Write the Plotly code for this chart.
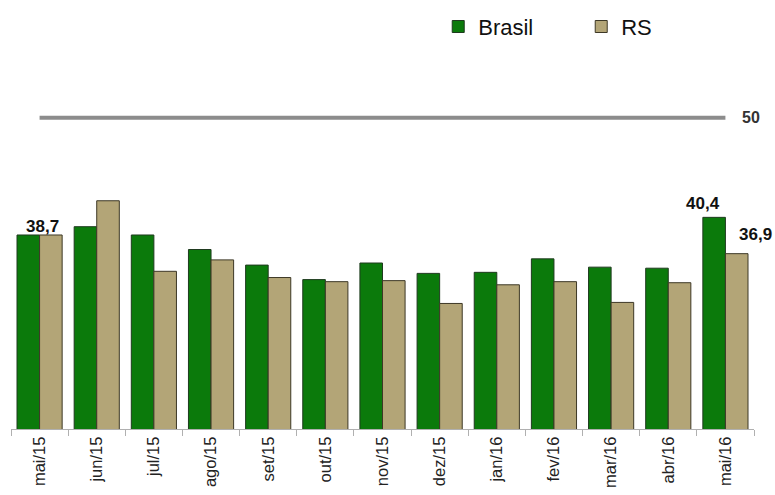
import plotly.graph_objects as go

categories = ["mai/15", "jun/15", "jul/15", "ago/15", "set/15", "out/15", "nov/15",
              "dez/15", "jan/16", "fev/16", "mar/16", "abr/16", "mai/16"]
brasil = [38.7, 39.5, 38.7, 37.3, 35.8, 34.4, 36.0, 35.0, 35.1, 36.4, 35.6, 35.5, 40.4]
rs = [38.7, 42.0, 35.2, 36.3, 34.6, 34.2, 34.3, 32.1, 33.9, 34.2, 32.2, 34.1, 36.9]
reference = [50] * len(categories)
y_range = [20, 60]

FONT = "Liberation Sans, Arial, sans-serif"

fig = go.Figure()
fig.add_trace(go.Bar(
    x=categories, y=brasil, name="Brasil",
    marker=dict(color="#0b7a0b", line=dict(color="#1f3a1f", width=1)),
))
fig.add_trace(go.Bar(
    x=categories, y=rs, name="RS",
    marker=dict(color="#b3a577", line=dict(color="#3d3826", width=1)),
))
fig.add_trace(go.Scatter(
    x=categories, y=reference, mode="lines", showlegend=False,
    line=dict(color="#8c8c8c", width=4), hoverinfo="skip",
))

def fmt(v):
    return f"{v:.1f}".replace(".", ",")

annotations = [
    dict(x=categories[0], y=brasil[0], text=fmt(brasil[0]), xshift=3, yshift=-3,
         yanchor="bottom"),
    dict(x=categories[-1], y=brasil[-1], text=fmt(brasil[-1]), xshift=-22, yshift=2,
         yanchor="bottom"),
    dict(x=categories[-1], y=rs[-1], text=fmt(rs[-1]), xshift=30, yshift=8,
         yanchor="bottom"),
]
for a in annotations:
    a.update(showarrow=False, font=dict(family=FONT, size=17, color="#111111"))
    a["text"] = "<b>" + a["text"] + "</b>"
annotations.append(dict(
    x=categories[-1], y=reference[-1], text="<b>50</b>", xshift=26, showarrow=False,
    font=dict(family=FONT, size=16, color="#333333"),
))

fig.update_layout(
    width=775, height=495,
    margin=dict(l=11, r=21, t=14, b=66, autoexpand=False),
    paper_bgcolor="white", plot_bgcolor="white",
    barmode="group", bargap=0.21, bargroupgap=0,
    font=dict(family=FONT, color="#111111"),
    legend=dict(orientation="h", x=0.575, y=1.02, xanchor="left", yanchor="top",
                font=dict(size=22, family=FONT, color="#111111"),
                entrywidth=98, itemwidth=30, bgcolor="rgba(0,0,0,0)"),
    annotations=annotations,
    xaxis=dict(showgrid=False, showline=True, linecolor="#b0b0b0", linewidth=1,
               automargin=False, range=[-0.5, len(categories) - 0.5],
               ticks="outside", tickson="boundaries", ticklen=6, tickcolor="#b0b0b0",
               tickangle=-90, tickfont=dict(size=16.5, family=FONT, color="#222222")),
    yaxis=dict(range=y_range, visible=False, showgrid=False, zeroline=False,
               automargin=False),
)

post = """
document.documentElement.style.margin='0';
document.documentElement.style.overflow='hidden';
document.body.style.margin='0';
document.body.style.overflow='hidden';
var gd = document.getElementById('{plot_id}');
Plotly.relayout(gd, {width: 775, height: 495});
"""

fig.write_html("out.html", post_script=post,
               config={"responsive": False, "displayModeBar": False})
